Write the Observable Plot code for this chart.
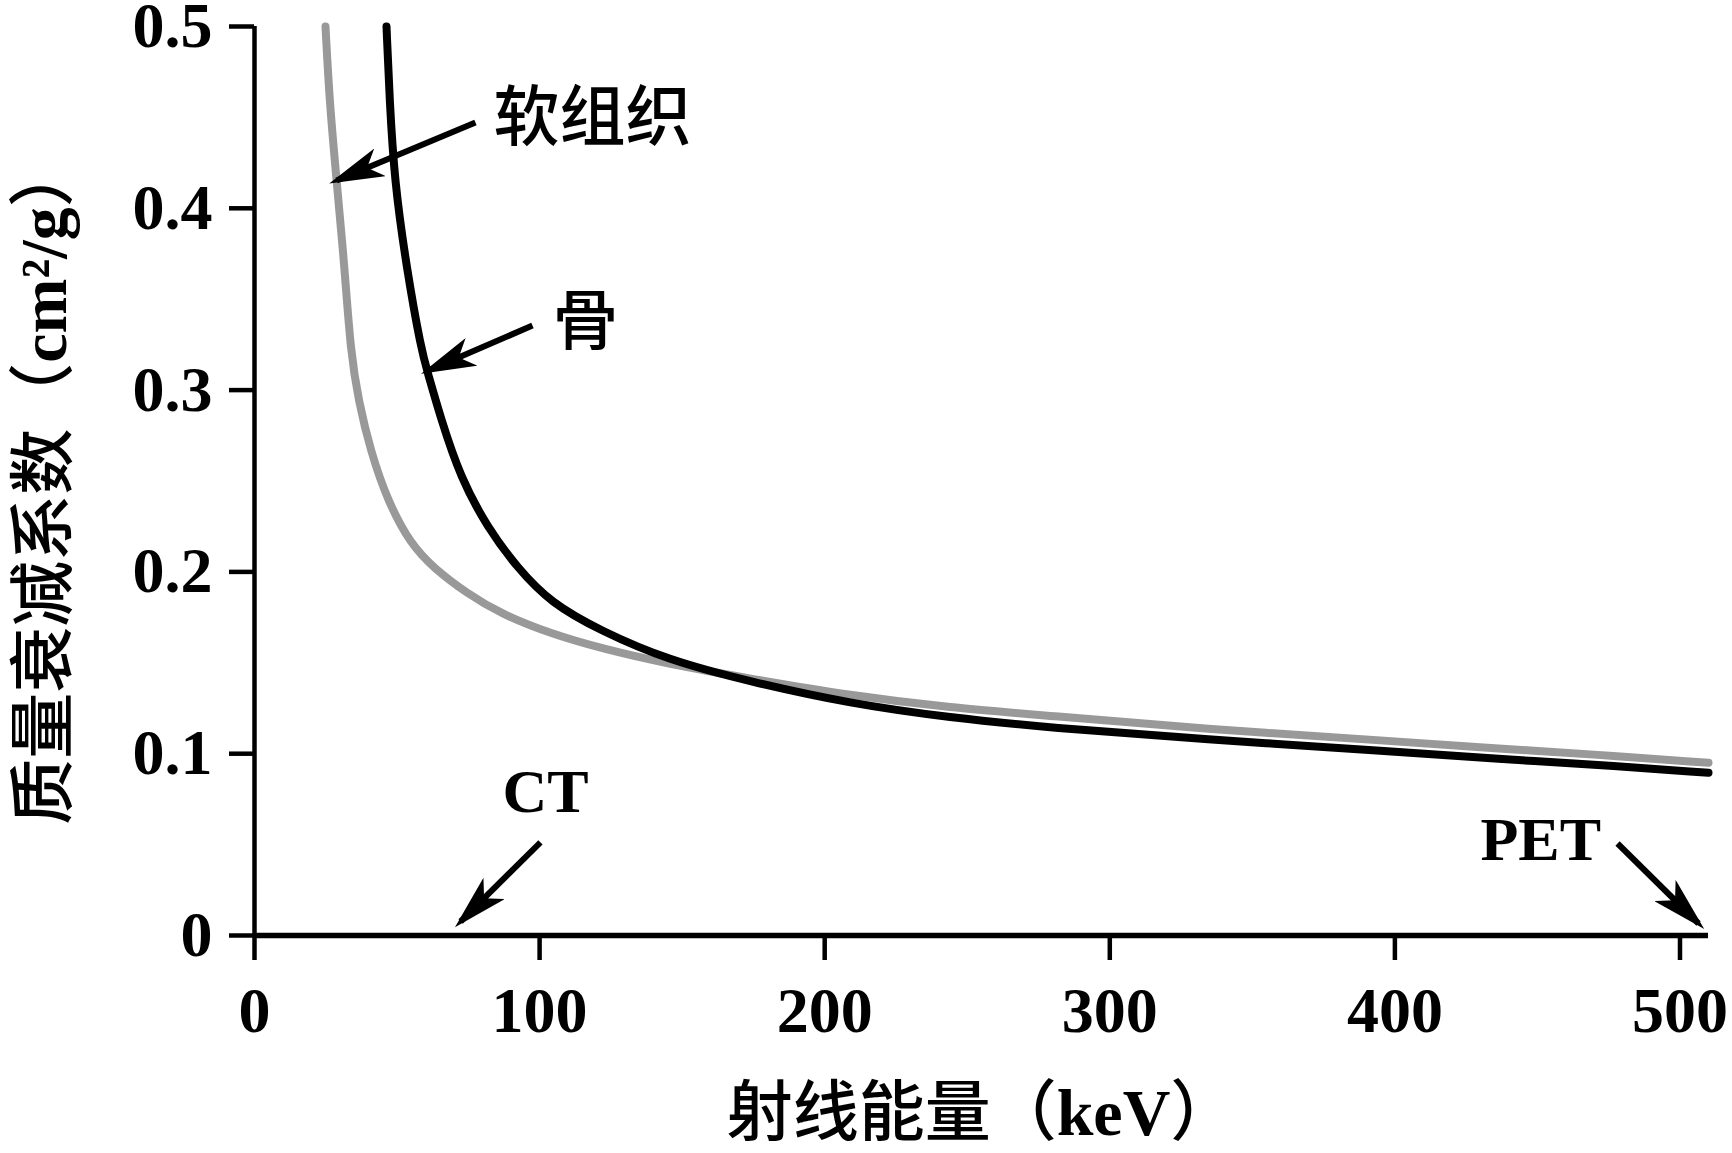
<!DOCTYPE html>
<html>
<head>
<meta charset="utf-8">
<script src="https://cdn.jsdelivr.net/npm/d3@7"></script>
<script src="https://cdn.jsdelivr.net/npm/@observablehq/plot@0.6"></script>
<style>
  html, body { margin: 0; padding: 0; background: #fff; }
  #chart svg { display: block; }
</style>
</head>
<body>
<div id="chart"></div>
<script>
// Soft tissue (gray) mass attenuation coefficient, cm^2/g vs keV
const energySoft = [24.9, 26.3, 28.8, 31.6, 33.7, 36.5, 40.7, 46.7, 54.7, 62.9, 74.7, 86.3, 103.9, 121.4, 144.9, 174, 209, 244, 279, 332, 400, 437, 470, 510];
const muSoft     = [0.5, 0.459, 0.415, 0.3675, 0.321, 0.294, 0.2665, 0.239, 0.2154, 0.202, 0.188, 0.177, 0.166, 0.158, 0.1494, 0.1412, 0.132, 0.1253, 0.1209, 0.1137, 0.1069, 0.1027, 0.0996, 0.095];

// Bone (black)
const energyBone = [46.3, 47.4, 49.1, 53.3, 58.5, 60.7, 65.3, 72.3, 81.8, 92.3, 103.9, 121.4, 144.9, 174, 209, 244, 279, 332, 400, 437, 470, 510];
const muBone     = [0.5, 0.459, 0.415, 0.3675, 0.322, 0.31, 0.2846, 0.2516, 0.2242, 0.202, 0.183, 0.1676, 0.1515, 0.1395, 0.1275, 0.1198, 0.1143, 0.108, 0.1012, 0.097, 0.094, 0.0895];

const xTicks = [0, 100, 200, 300, 400, 500];
const yTicks = [0, 0.1, 0.2, 0.3, 0.4, 0.5];

const xTitle = "射线能量（keV）";
const yTitle = "质量衰减系数（cm²/g）";

// Annotation labels
const labelText = ["软组织", "骨", "CT", "PET"];
const labelX    = [83.8, 104.5, 87.0, 430];
const labelY    = [0.4494, 0.337, 0.0787, 0.0523];

// Annotation arrows (start -> tip)
const arrowX1 = [77.5, 97.5, 100.3, 478.1];
const arrowY1 = [0.4472, 0.3355, 0.0512, 0.0506];
const arrowX2 = [28.8, 61.0, 72.3, 506.5];
const arrowY2 = [0.4153, 0.3108, 0.0077, 0.0066];

const soft = energySoft.map((e, i) => ({e, mu: muSoft[i]}));
const bone = energyBone.map((e, i) => ({e, mu: muBone[i]}));
const labels = labelText.map((t, i) => ({t, x: labelX[i], y: labelY[i]}));
const cjkLabels = labels.filter(d => /[\u4e00-\u9fff]/.test(d.t));
const latinLabels = labels.filter(d => !/[\u4e00-\u9fff]/.test(d.t));
const arrows = arrowX1.map((x1, i) => ({x1, y1: arrowY1[i], x2: arrowX2[i], y2: arrowY2[i]}));

const FONT = "'Liberation Serif', 'Noto Sans CJK SC', serif";
const CJK = "'Noto Sans CJK SC', 'Liberation Serif', sans-serif";

const chart = Plot.plot({
  width: 1732,
  height: 1153,
  marginLeft: 254,
  marginRight: 24,
  marginTop: 26,
  marginBottom: 218,
  style: {fontFamily: FONT, fontSize: "64px", background: "#fff", color: "#000", overflow: "visible"},
  x: {domain: [0, 510]},
  y: {domain: [0, 0.5]},
  marks: [
    Plot.line(soft, {x: "e", y: "mu", stroke: "#999999", strokeWidth: 8, curve: "basis"}),
    Plot.line(bone, {x: "e", y: "mu", stroke: "#000000", strokeWidth: 8, curve: "basis"}),
    Plot.ruleX([0], {y1: 0, y2: 0.5, stroke: "#000", strokeWidth: 4.5}),
    Plot.ruleY([0], {stroke: "#000", strokeWidth: 5.5}),
    Plot.axisX({ticks: xTicks, tickSize: 25, tickPadding: 26, tickFormat: d => String(d), label: null, strokeWidth: 4.5, fontSize: 64, fontWeight: "bold"}),
    Plot.axisY({ticks: yTicks, tickSize: 25, tickPadding: 17, tickFormat: d => String(d), label: null, strokeWidth: 4.5, fontSize: 64, fontWeight: "bold"}),
    Plot.link(arrows, {x1: "x1", y1: "y1", x2: "x2", y2: "y2", stroke: "#000", strokeWidth: 6}),
    Plot.text(cjkLabels, {x: "x", y: "y", text: "t", textAnchor: "start", lineAnchor: "middle", fontSize: 66, fontFamily: CJK, fontWeight: 500, fill: "#000"}),
    Plot.text(latinLabels, {x: "x", y: "y", text: "t", textAnchor: "start", lineAnchor: "middle", fontSize: 62, fontWeight: "bold", fill: "#000"}),
    Plot.text([xTitle], {frameAnchor: "bottom", text: d => d, dy: 178, dx: 0, textAnchor: "middle", lineAnchor: "middle", fontSize: 66, fill: "#000", className: "title-x"}),
    Plot.text([yTitle], {frameAnchor: "left", text: d => d, rotate: -90, dx: -210, dy: 2, textAnchor: "middle", lineAnchor: "middle", fontSize: 66, fill: "#000", className: "title-y"})
  ]
});

const svg = d3.select(chart);

// Titles: CJK in Noto Sans CJK, Latin parts bold serif
function styleTitle(sel) {
  sel.each(function () {
    const t = d3.select(this);
    const s = t.text();
    t.text(null);
    const parts = s.match(/[\u4e00-\u9fff\uff08\uff09]+|[^\u4e00-\u9fff\uff08\uff09]+/g) || [];
    parts.forEach(p => {
      const isCjk = /[\u4e00-\u9fff\uff08\uff09]/.test(p);
      t.append("tspan")
        .attr("font-family", isCjk ? CJK : FONT)
        .attr("font-weight", isCjk ? 500 : "bold")
        .text(p);
    });
  });
}
styleTitle(svg.selectAll(".title-x text"));
styleTitle(svg.selectAll(".title-y text"));

// filled "stealth" arrowheads on the link paths
const defs = svg.append("defs");
defs.append("marker")
  .attr("id", "stealth-head")
  .attr("markerUnits", "userSpaceOnUse")
  .attr("viewBox", "0 0 55 30")
  .attr("markerWidth", 55)
  .attr("markerHeight", 30)
  .attr("refX", 47)
  .attr("refY", 15)
  .attr("orient", "auto")
  .append("path")
  .attr("d", "M0,0 L55,15 L0,30 L14,15 Z")
  .attr("fill", "#000");
svg.selectAll('g[aria-label="link"] path').attr("marker-end", "url(#stealth-head)");

document.getElementById("chart").appendChild(chart);
</script>
</body>
</html>
